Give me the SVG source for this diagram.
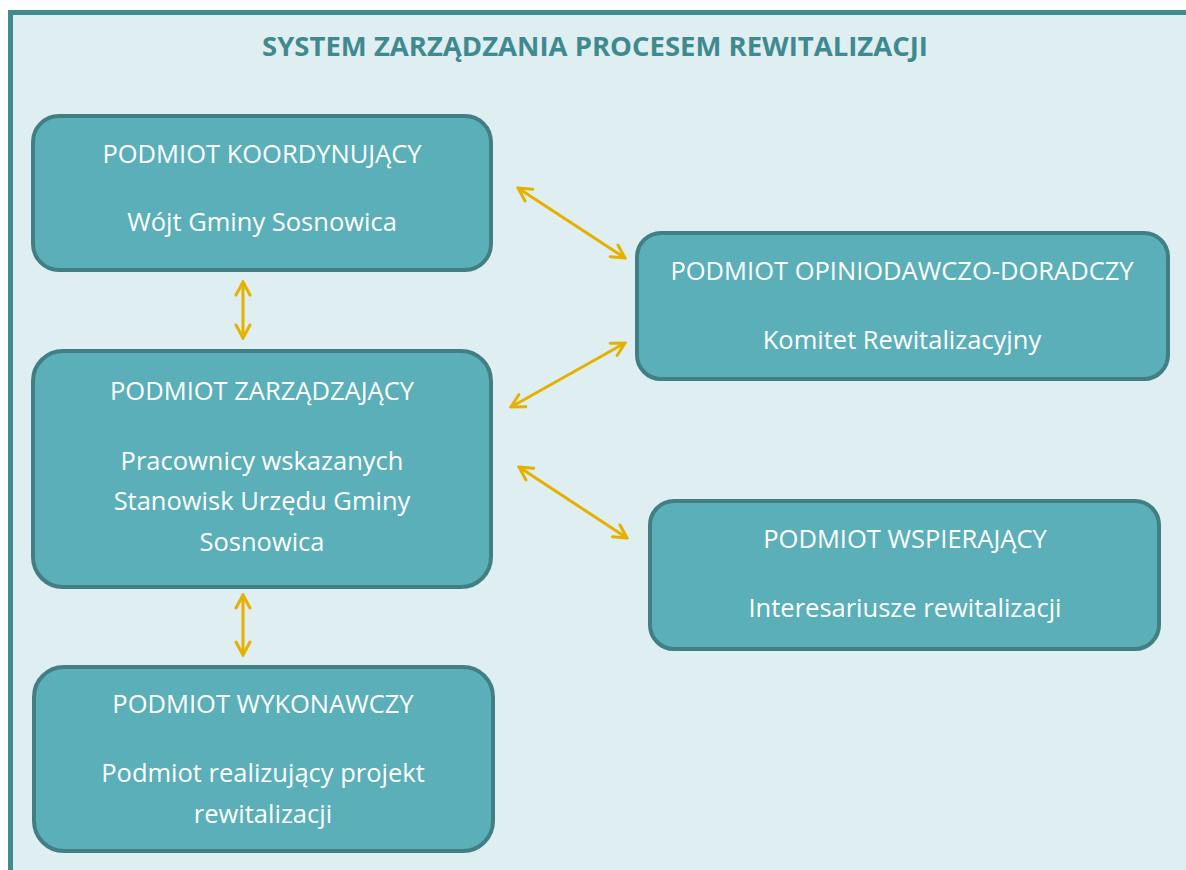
<svg xmlns="http://www.w3.org/2000/svg" width="1186" height="870" viewBox="0 0 1186 870">
<defs>
<style>
.frame{fill:#deeef1;stroke:#408b90;stroke-width:5}
.box{fill:#5aafb8;stroke:#417f84;stroke-width:4}
.t{font-family:"Open Sans","Liberation Sans",sans-serif;font-size:25.5px;fill:#ffffff;text-anchor:middle}
.title{font-family:"Open Sans","Liberation Sans",sans-serif;font-size:27.5px;font-weight:bold;fill:#3f8a8e;text-anchor:middle}
.arr{stroke:#e6b000;stroke-width:3;fill:none;marker-start:url(#ah);marker-end:url(#ah)}
</style>
<marker id="ah" viewBox="0 0 18 18" refX="16" refY="9" markerWidth="18" markerHeight="18" markerUnits="userSpaceOnUse" orient="auto-start-reverse">
<path d="M3,2 L16,9 L3,16" fill="none" stroke="#e6b000" stroke-width="3" stroke-linecap="round" stroke-linejoin="miter"/>
</marker>
</defs>
<rect x="0" y="0" width="1186" height="870" fill="#ffffff"/>
<rect class="frame" x="10.5" y="12.5" width="1200" height="880"/>
<text class="title" x="595" y="56">SYSTEM ZARZĄDZANIA PROCESEM REWITALIZACJI</text>
<g id="connectors">
<line class="arr" x1="243" y1="282" x2="243" y2="338"/>
<line class="arr" x1="243" y1="595" x2="243" y2="655"/>
<line class="arr" x1="518" y1="188" x2="625" y2="258"/>
<line class="arr" x1="625" y1="343" x2="511" y2="407"/>
<line class="arr" x1="519" y1="467" x2="627" y2="538"/>
</g>
<g id="koordynujacy">
<rect class="box" x="33" y="116" width="458" height="154" rx="26"/>
<text class="t" x="262" y="163">PODMIOT KOORDYNUJĄCY</text>
<text class="t" x="262" y="231">Wójt Gminy Sosnowica</text>
</g>
<g id="zarzadzajacy">
<rect class="box" x="33" y="351" width="458" height="236" rx="30"/>
<text class="t" x="262" y="400">PODMIOT ZARZĄDZAJĄCY</text>
<text class="t" x="262" y="470">Pracownicy wskazanych</text>
<text class="t" x="262" y="510">Stanowisk Urzędu Gminy</text>
<text class="t" x="262" y="551">Sosnowica</text>
</g>
<g id="wykonawczy">
<rect class="box" x="34" y="667" width="459" height="184" rx="30"/>
<text class="t" x="263" y="713">PODMIOT WYKONAWCZY</text>
<text class="t" x="263" y="782">Podmiot realizujący projekt</text>
<text class="t" x="263" y="823">rewitalizacji</text>
</g>
<g id="opiniodawczo">
<rect class="box" x="637" y="233" width="531" height="146" rx="24"/>
<text class="t" x="902" y="280">PODMIOT OPINIODAWCZO-DORADCZY</text>
<text class="t" x="902" y="349">Komitet Rewitalizacyjny</text>
</g>
<g id="wspierajacy">
<rect class="box" x="650" y="501" width="509" height="148" rx="24"/>
<text class="t" x="905" y="548">PODMIOT WSPIERAJĄCY</text>
<text class="t" x="905" y="617">Interesariusze rewitalizacji</text>
</g>
</svg>
